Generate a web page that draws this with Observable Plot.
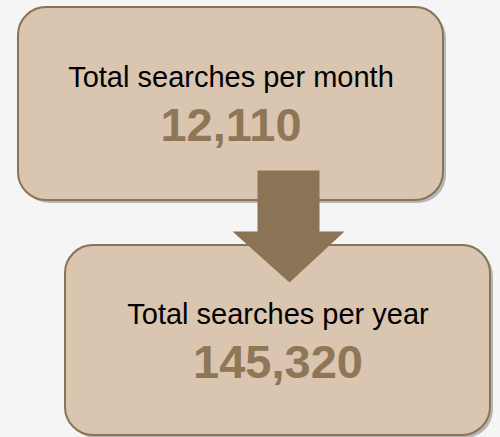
<!DOCTYPE html>
<html>
<head>
<meta charset="utf-8">
<script src="https://cdn.jsdelivr.net/npm/d3@7"></script>
<script src="https://cdn.jsdelivr.net/npm/@observablehq/plot@0.6"></script>
<style>
  html, body { margin: 0; padding: 0; background: #f5f5f5; }
  #chart { width: 500px; height: 437px; }
</style>
</head>
<body>
<div id="chart"></div>
<script>
// ---- data ----
const labels = ["Total searches per month", "Total searches per year"];
const values = [12110, 145320];

// ---- layout (diagram geometry, kept apart from the data) ----
const W = 500, H = 437;
const boxX1 = [18, 65], boxX2 = [443, 490];
const boxY1 = [7, 245], boxY2 = [200, 435];
const labelY = [86, 323], valueY = [140, 377];
const arrow = {cx: 288, top: 170, shaftHalf: 31, headY: 231, headHalf: 56, tipY: 282};

const fmt = d3.format(",");
const boxes = labels.map((label, i) => ({
  label,
  value: fmt(values[i]),
  x1: boxX1[i], x2: boxX2[i], y1: boxY1[i], y2: boxY2[i],
  cx: (boxX1[i] + boxX2[i]) / 2,
  ly: labelY[i], vy: valueY[i]
}));
const a = arrow;
const arrowPts = [
  [a.cx - a.shaftHalf, a.top], [a.cx + a.shaftHalf, a.top],
  [a.cx + a.shaftHalf, a.headY], [a.cx + a.headHalf, a.headY],
  [a.cx + 1, a.tipY], [a.cx - a.headHalf, a.headY],
  [a.cx - a.shaftHalf, a.headY]
].map(([x, y]) => ({x, y}));
const off = 3;

const fill = "#d9c5b0", brown = "#8b7355";
const font = "Liberation Sans, Arial, sans-serif";

const plot = Plot.plot({
  width: W, height: H,
  margin: 0,
  style: {background: "#f5f5f5", overflow: "visible"},
  x: {domain: [0, W], range: [0, W], axis: null},
  y: {domain: [0, H], range: [0, H], axis: null},
  marks: [
    Plot.rect(boxes, {x1: d => d.x1 + off, x2: d => d.x2 + off, y1: d => d.y1 + off, y2: d => d.y2 + off,
      rx: 28, fill: "#444", fillOpacity: 0.35, ariaLabel: "shadow"}),
    Plot.rect(boxes, {x1: "x1", x2: "x2", y1: "y1", y2: "y2", rx: 28,
      fill, stroke: brown, strokeWidth: 2}),
    Plot.line(arrowPts, {x: d => d.x + off, y: d => d.y + off, fill: "#444", fillOpacity: 0.35,
      stroke: "none", ariaLabel: "shadow"}),
    Plot.line(arrowPts, {x: "x", y: "y", fill: brown, stroke: "none"}),
    Plot.text(boxes, {x: "cx", y: "ly", text: "label", fontSize: 29, fontFamily: font,
      fill: "#000", lineAnchor: "bottom", textAnchor: "middle"}),
    Plot.text(boxes, {x: "cx", y: "vy", text: "value", fontSize: 47, fontWeight: "bold",
      fontFamily: font, fill: "#8f7657", lineAnchor: "bottom", textAnchor: "middle"})
  ]
});

// soft blur for the drop shadows
const svg = d3.select(plot);
const defs = svg.insert("defs", ":first-child");
defs.append("filter").attr("id", "soft").attr("x", "-10%").attr("y", "-10%")
  .attr("width", "120%").attr("height", "120%")
  .append("feGaussianBlur").attr("stdDeviation", 3);
svg.selectAll('g[aria-label="shadow"]').attr("filter", "url(#soft)");

document.getElementById("chart").append(plot);
</script>
</body>
</html>
